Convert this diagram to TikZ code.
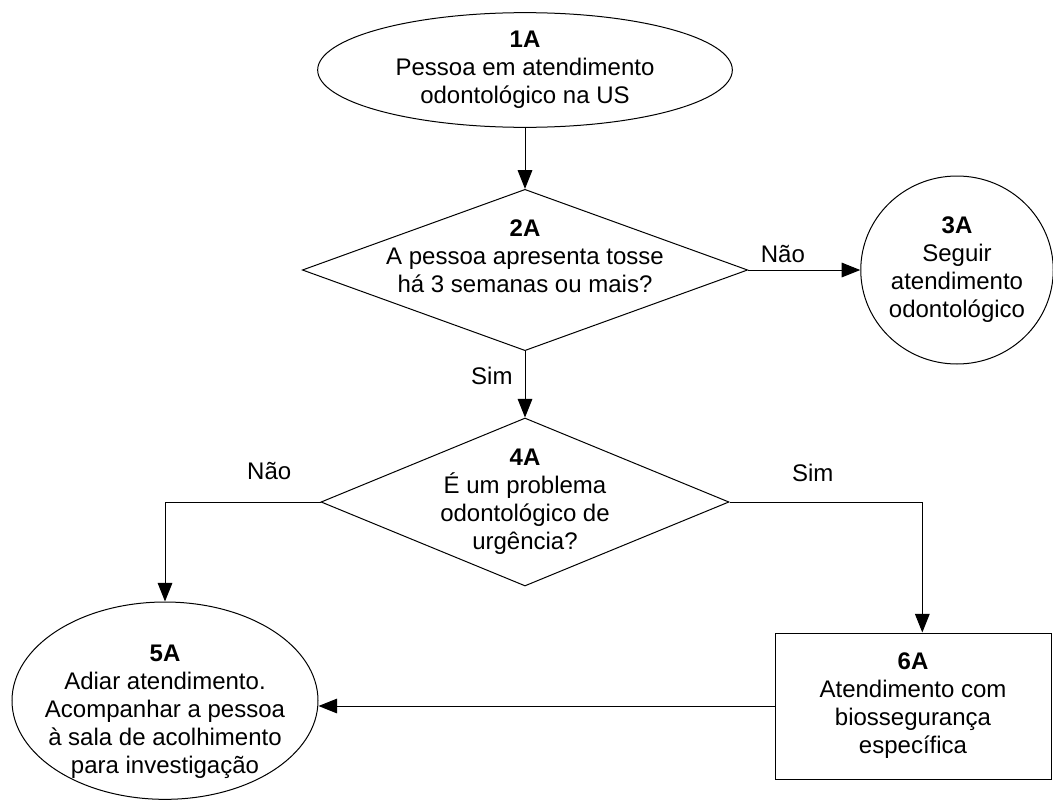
\documentclass[tikz,border=0pt]{standalone}
\usepackage{fontspec}
\setmainfont{Liberation Sans}
\usetikzlibrary{shapes,arrows.meta}
\newcommand{\fs}{\fontsize{18}{21}\selectfont}
\tikzstyle{terminal} = [ellipse, draw, inner sep=0pt, font=\fs, align=center]
\tikzstyle{decision} = [diamond, draw, inner sep=0pt]
\tikzstyle{process} = [rectangle, draw, inner sep=0pt, font=\fs, align=center]
\tikzstyle{inside} = [font=\fs, align=center, inner sep=0pt]
\tikzstyle{lbl} = [font=\fs, inner sep=0pt]
\tikzstyle{line} = [draw, -{Triangle[length=14pt,width=11pt]}]

\begin{document}
\begin{tikzpicture}
[x=0.75pt, y=-0.75pt, node distance=150pt, line width=0.75pt]
\useasboundingbox (0,0) rectangle (1053,803);
    % Place nodes
    \node [terminal, minimum width=311pt, minimum height=86pt] (start) at (525,70) {\textbf{1A}\\Pessoa em atendimento\\odontológico na US};
    \node [decision, minimum width=334pt, minimum height=121pt, below of=start,
        label={[inside, yshift=10.5pt]center:{\textbf{2A}\\A pessoa apresenta tosse\\há 3 semanas ou mais?}}] (q2) {};
    \node [terminal, minimum width=141pt, minimum height=141pt, right of=q2, xshift=174pt] (stop3) {\textbf{3A}\\Seguir\\atendimento\\odontológico};

    \node [decision, minimum width=306pt, minimum height=126pt, below of=q2, yshift=-24pt,
        label={[inside]center:{\textbf{4A}\\É um problema\\odontológico de\\urgência?}}] (q4) {};
    \node [terminal, minimum width=229.5pt, minimum height=148pt, left of=q4, xshift=-120pt, yshift=-149pt,
        label={[inside, yshift=-8pt]center:{\textbf{5A}\\Adiar atendimento.\\Acompanhar a pessoa\\à sala de acolhimento\\para investigação}}] (delay) {};
    \node [process, minimum width=207pt, minimum height=109.5pt, right of=q4, xshift=141pt, yshift=-153pt] (act) {\textbf{6A}\\Atendimento com\\biossegurança\\específica};

    % Draw edges
   \path [line] (start) -- (q2);
   \path [line] (q2) -- node [lbl, pos=0.31, above=5pt] {Não} (stop3);
   \path [line] (q2) -- node [lbl, pos=0.38, left=9pt] {Sim} (q4);
   \path [line] (q4.west) -| node [lbl, pos=0.165, above=16pt] {Não} (delay.north);
   \path [line] (q4.east) -| node [lbl, pos=0.216, above=15pt] {Sim} ([xshift=7pt]act.north);
   \path [line] (act.west) -- (act.west -| delay.east);

\end{tikzpicture}
\end{document}
